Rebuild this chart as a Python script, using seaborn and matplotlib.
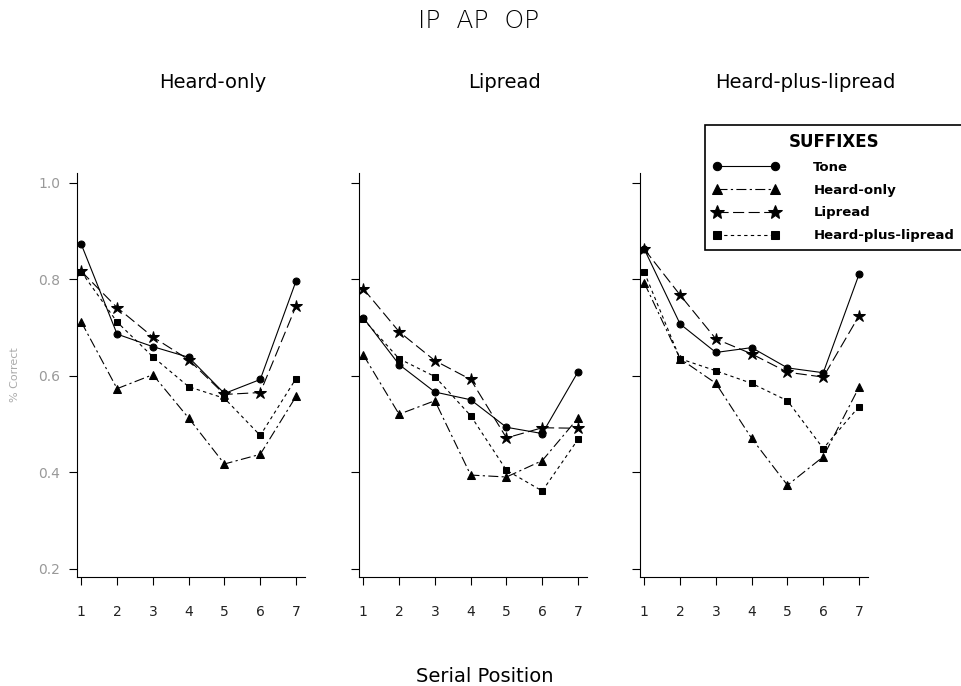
import numpy as np
import pandas as pd
import matplotlib.pyplot as plt
import seaborn as sb

# serial positions and the three presentation conditions
positions = [1, 2, 3, 4, 5, 6, 7]
panels = ["Heard-only", "Lipread", "Heard-plus-lipread"]
suffixes = ["Tone", "Heard-only", "Lipread", "Heard-plus-lipread"]

# proportion correct
heard_tone = [0.872, 0.686, 0.660, 0.638, 0.563, 0.592, 0.796]
heard_heard = [0.711, 0.573, 0.602, 0.512, 0.417, 0.437, 0.557]
heard_lip = [0.816, 0.741, 0.680, 0.633, 0.561, 0.565, 0.744]
heard_hpl = [0.815, 0.711, 0.639, 0.577, 0.553, 0.476, 0.594]

lip_tone = [0.720, 0.623, 0.566, 0.550, 0.493, 0.480, 0.608]
lip_heard = [0.643, 0.520, 0.548, 0.394, 0.390, 0.424, 0.512]
lip_lip = [0.780, 0.691, 0.631, 0.592, 0.471, 0.492, 0.491]
lip_hpl = [0.717, 0.635, 0.598, 0.517, 0.404, 0.361, 0.468]

hpl_tone = [0.862, 0.707, 0.648, 0.658, 0.616, 0.606, 0.810]
hpl_heard = [0.792, 0.635, 0.584, 0.470, 0.373, 0.432, 0.576]
hpl_lip = [0.862, 0.767, 0.676, 0.645, 0.607, 0.597, 0.724]
hpl_hpl = [0.814, 0.635, 0.610, 0.584, 0.548, 0.449, 0.536]

values = {
    "Heard-only": [heard_tone, heard_heard, heard_lip, heard_hpl],
    "Lipread": [lip_tone, lip_heard, lip_lip, lip_hpl],
    "Heard-plus-lipread": [hpl_tone, hpl_heard, hpl_lip, hpl_hpl],
}

rows = []
for p in panels:
    for s, ys in zip(suffixes, values[p]):
        for x, y in zip(positions, ys):
            rows.append({"panel": p, "suffix": s, "pos": x, "correct": y})
df = pd.DataFrame(rows)

sb.set_style("ticks")
plt.rcParams['font.family'] = ['DejaVu Sans']
plt.rcParams['text.color'] = 'black'

markers = {"Tone": "o", "Heard-only": "^", "Lipread": "*", "Heard-plus-lipread": "s"}
dashes = {"Tone": "", "Heard-only": (9, 3, 2, 3), "Lipread": (10, 4),
          "Heard-plus-lipread": (3, 3)}
sizes = {"Tone": 5, "Heard-only": 6, "Lipread": 9, "Heard-plus-lipread": 5}

fig = plt.figure(figsize=(9.62, 6.86), dpi=100)
lefts = [77, 359, 640]
axes = []
for i, p in enumerate(panels):
    ax = fig.add_axes([lefts[i] / 962, 0.159, 228 / 962, 0.589])
    sub = df[df.panel == p]
    sb.lineplot(data=sub, x="pos", y="correct", style="suffix", style_order=suffixes,
                markers=markers, dashes=dashes, color="black", linewidth=0.8,
                markeredgecolor="black", ax=ax, legend=(i == 2))
    for line, s in zip(ax.lines, suffixes):
        line.set_markersize(sizes[s])
    ax.set_xlim(0.88, 7.25)
    ax.set_ylim(0.183, 1.02)
    ax.set_xticks(positions)
    ax.set_xticklabels([str(x) for x in positions], fontsize=10, color="#222222")
    ax.set_yticks([0.2, 0.4, 0.6, 0.8, 1.0])
    if i == 0:
        ax.set_yticklabels(["0.2", "0.4", "0.6", "0.8", "1.0"], fontsize=10, color="#999999")
    else:
        ax.set_yticklabels([])
    ax.tick_params(axis="both", length=6, width=0.8, color="black", pad=14)
    ax.tick_params(axis="y", pad=6)
    ax.set_xlabel("")
    ax.set_ylabel("")
    for sp in ["left", "bottom"]:
        ax.spines[sp].set_linewidth(0.8)
        ax.spines[sp].set_color("black")
    sb.despine(ax=ax)
    axes.append(ax)

# legend box
handles, labels = axes[2].get_legend_handles_labels()
axes[2].get_legend().remove()
for h, s in zip(handles, labels):
    h.set_markersize(sizes.get(s, 5) + 1)
leg = fig.legend(handles, labels, loc="upper left", bbox_to_anchor=(0.733, 0.818),
                 numpoints=2, handlelength=5.0, fancybox=False, edgecolor="black",
                 framealpha=1, title="SUFFIXES", prop={"size": 9.5, "weight": "bold"},
                 borderpad=0.6, labelspacing=0.75, handletextpad=2.6, borderaxespad=0)
leg.get_title().set_fontsize(12)
leg.get_title().set_fontweight("bold")
leg.get_frame().set_linewidth(1.2)

# titles
fig.text(0.497, 0.97, "IP  AP  OP", ha="center", va="center", fontsize=18, fontweight="light")
centers = [213, 505, 805]
for c, p in zip(centers, panels):
    fig.text(c / 962, 1 - 83 / 686, p, ha="center", va="center", fontsize=14)
fig.text(485 / 962, 1 - 677 / 686, "Serial Position", ha="center", va="center", fontsize=14)
fig.text(15 / 962, 1 - 375 / 686, "% Correct", ha="center", va="center", rotation=90,
         fontsize=8, color="#aaaaaa")

plt.savefig("out.png", dpi=100)
